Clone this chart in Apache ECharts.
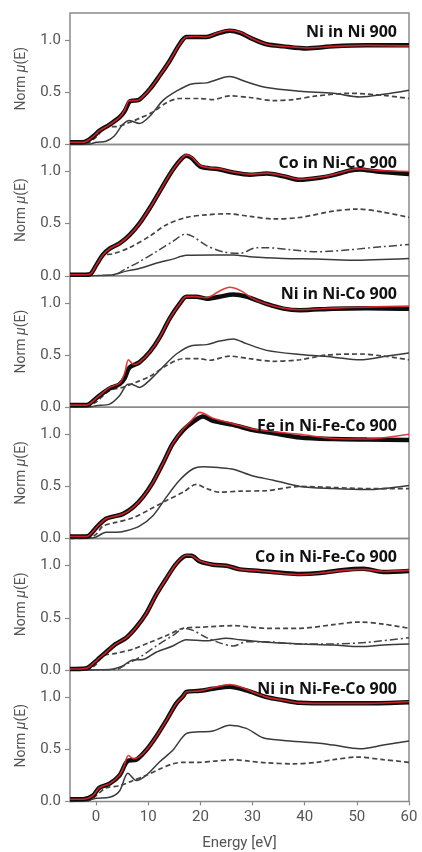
<!DOCTYPE html>
<html>
<head>
<meta charset="utf-8">
<script src="https://cdn.jsdelivr.net/npm/echarts@6/dist/echarts.min.js"></script>
<style>
html,body{margin:0;padding:0;background:#fff;}
#c{width:422px;height:852px;}
</style>
</head>
<body>
<div id="c"></div>
<script>
// ---------- data ----------
const panelTitles = ['Ni in Ni 900','Co in Ni-Co 900','Ni in Ni-Co 900','Fe in Ni-Fe-Co 900','Co in Ni-Fe-Co 900','Ni in Ni-Fe-Co 900'];
const xTicks = [0,10,20,30,40,50,60];
const yTicks = [0,0.5,1.0];

// Panel 1: Ni in Ni 900
const p1Data = [[-5,0.02],[-2.5,0.02],[-1.5,0.04],[0,0.1],[0.6,0.13],[2.6,0.19],[4.5,0.26],[5.5,0.32],[6.4,0.41],[7.2,0.42],[8.3,0.43],[10.3,0.53],[12.2,0.66],[14.1,0.8],[16,0.96],[17.3,1.03],[19.2,1.03],[21.2,1.03],[23.1,1.06],[25.6,1.09],[27.6,1.07],[30.1,1.01],[32.7,0.96],[35.9,0.94],[40.4,0.92],[45.5,0.94],[51.9,0.95],[60,0.95]];
const p1Fit  = [[-5,0.02],[-2.5,0.02],[-1.5,0.04],[0,0.1],[0.6,0.13],[2.6,0.19],[4.5,0.26],[5.5,0.33],[6.3,0.42],[7.2,0.42],[8.3,0.43],[10.3,0.53],[12.2,0.66],[14.1,0.8],[16,0.96],[17.3,1.03],[19.2,1.035],[21.2,1.03],[23.1,1.065],[25.6,1.095],[27.6,1.075],[30.1,1.01],[32.7,0.96],[35.9,0.94],[40.4,0.925],[45.5,0.94],[51.9,0.95],[60,0.945]];
const p1Solid = [[-5,0],[-1,0.005],[0,0.02],[1.9,0.03],[3.5,0.08],[5.1,0.19],[6.4,0.23],[8.3,0.2],[10.3,0.27],[12.8,0.42],[15.4,0.51],[18.3,0.58],[21.2,0.59],[25.6,0.65],[28.8,0.6],[32.7,0.545],[39.1,0.51],[45.5,0.49],[50.6,0.455],[55.1,0.48],[60,0.52]];
const p1Dash  = [[-5,0],[-2,0.005],[0,0.07],[1.5,0.15],[2.6,0.17],[3.8,0.17],[6.4,0.21],[8.3,0.25],[10.9,0.31],[13.5,0.4],[16,0.44],[19.9,0.44],[22.4,0.43],[25.6,0.465],[29.5,0.45],[34,0.42],[37.8,0.43],[42.3,0.465],[48.7,0.49],[55.1,0.47],[60,0.44]];

// Panel 2: Co in Ni-Co 900
const p2Data = [[-5,0.01],[-2,0.01],[-1,0.02],[0,0.1],[1.3,0.2],[2.6,0.26],[4.5,0.31],[6.4,0.39],[8.3,0.5],[10.3,0.65],[12.2,0.81],[14.1,0.97],[16,1.1],[17.3,1.15],[18.3,1.13],[19.9,1.05],[21.8,1.03],[23.7,1.02],[26.3,0.99],[29.5,0.97],[32.7,0.98],[35.9,0.955],[39.1,0.92],[42.9,0.94],[45.5,0.965],[48.7,1.01],[50.6,1.02],[53.8,1.0],[60,0.975]];
const p2Fit  = [[-5,0.01],[-2,0.01],[-1,0.02],[0,0.1],[1.3,0.2],[2.6,0.26],[4.5,0.31],[6.4,0.39],[8.3,0.5],[10.3,0.65],[12.2,0.81],[14.1,0.97],[16,1.1],[17.3,1.16],[18.3,1.14],[19.9,1.06],[21.8,1.035],[23.7,1.025],[26.3,0.995],[29.5,0.975],[32.7,0.985],[35.9,0.96],[39.1,0.925],[42.9,0.945],[45.5,0.97],[48.7,1.015],[50.6,1.025],[53.8,1.01],[60,1.0]];
const p2Solid = [[-5,0],[2.6,0.005],[5.8,0.045],[8.3,0.07],[11.5,0.12],[14.7,0.16],[17.3,0.196],[22.4,0.2],[26.3,0.2],[30.1,0.18],[35.9,0.167],[42.3,0.16],[48.7,0.15],[60,0.167]];
const p2Dash  = [[-5,0],[-1.5,0.005],[0,0.1],[1.3,0.2],[3.2,0.21],[6.4,0.27],[10.3,0.38],[13.5,0.49],[17.3,0.56],[21.2,0.585],[25,0.595],[29.5,0.57],[34,0.545],[39.1,0.56],[45.5,0.62],[50,0.64],[55.1,0.61],[60,0.56]];
const p2DashDot = [[-5,0],[3.2,0.005],[5.8,0.07],[8.3,0.135],[11.5,0.23],[14.7,0.33],[17.2,0.4],[18.6,0.375],[21.2,0.29],[24.4,0.23],[27.6,0.215],[30.8,0.27],[32.7,0.27],[37.2,0.25],[42.3,0.23],[48.7,0.25],[55.1,0.28],[60,0.3]];

// Panel 3: Ni in Ni-Co 900
const p3Data = [[-5,0.02],[-2,0.02],[-1.3,0.03],[0.6,0.11],[2.6,0.18],[4.5,0.22],[5.5,0.28],[6.4,0.38],[8.3,0.43],[10.3,0.53],[12.2,0.67],[14.1,0.85],[16,0.99],[17.3,1.06],[19.2,1.06],[21.2,1.04],[23.7,1.06],[26.3,1.08],[28.8,1.06],[32.7,0.99],[35.9,0.945],[39.1,0.93],[45.5,0.945],[51.9,0.95],[60,0.945]];
const p3Fit  = [[-5,0.02],[-2,0.02],[-1.3,0.03],[0.6,0.11],[2.6,0.19],[4.5,0.23],[5.5,0.33],[6.2,0.455],[7.2,0.41],[8.3,0.43],[10.3,0.53],[12.2,0.67],[14.1,0.85],[16,0.99],[17.3,1.06],[19.2,1.06],[21.2,1.05],[23.7,1.115],[25.6,1.15],[27.6,1.12],[30.1,1.04],[32.7,0.99],[35.9,0.95],[39.1,0.935],[45.5,0.95],[51.9,0.96],[60,0.97]];
const p3Solid = [[-5,0],[-1,0.005],[0,0.015],[2.6,0.03],[4.5,0.11],[6.1,0.22],[6.8,0.22],[8.3,0.19],[10.3,0.26],[12.8,0.385],[15.4,0.51],[18.3,0.59],[21.2,0.6],[23.7,0.635],[26.3,0.655],[28.8,0.61],[32.7,0.545],[39.1,0.505],[45.5,0.48],[50.6,0.455],[55.8,0.49],[60,0.52]];
const p3Dash  = [[-5,0],[-2,0.005],[0,0.05],[2.6,0.16],[5.1,0.19],[7.7,0.24],[10.3,0.295],[13.5,0.4],[16.7,0.465],[19.9,0.465],[21.8,0.45],[25.6,0.49],[29.5,0.465],[34,0.44],[39.1,0.455],[44.2,0.5],[50.6,0.51],[55.1,0.49],[60,0.455]];

// Panel 4: Fe in Ni-Fe-Co 900
const p4Data = [[-5,0.02],[-2,0.02],[-1.3,0.03],[0.3,0.12],[1.9,0.19],[3.2,0.21],[5.1,0.235],[7.1,0.3],[9,0.4],[10.9,0.54],[12.8,0.72],[14.7,0.91],[16.7,1.04],[18.6,1.12],[20.5,1.17],[22.4,1.13],[26.3,1.09],[30.1,1.04],[34,1.01],[39.1,0.97],[45.5,0.955],[51.9,0.95],[60,0.945]];
const p4Fit  = [[-5,0.02],[-2,0.02],[-1.3,0.03],[0.3,0.12],[1.9,0.19],[3.2,0.21],[5.1,0.235],[7.1,0.3],[9,0.4],[10.9,0.54],[12.8,0.72],[14.7,0.91],[16.7,1.05],[18.6,1.15],[19.9,1.21],[22.4,1.155],[26.3,1.1],[30.1,1.05],[34,1.025],[39.1,1.0],[45.5,0.96],[51.9,0.955],[60,1.0]];
const p4Solid = [[-5,0],[-1,0.005],[0,0.015],[1.9,0.06],[3.8,0.06],[5.8,0.075],[8.3,0.12],[10.9,0.22],[13.5,0.4],[16,0.56],[18.6,0.67],[20.5,0.69],[23.7,0.68],[26.3,0.665],[30.1,0.6],[34,0.56],[39.1,0.5],[45.5,0.48],[51.9,0.47],[60,0.51]];
const p4Dash  = [[-5,0],[-1.5,0.005],[0,0.04],[1.3,0.12],[3.8,0.155],[7.1,0.2],[10.3,0.28],[13.5,0.365],[16.7,0.445],[19.2,0.52],[21.2,0.48],[23.7,0.445],[27.6,0.455],[32.7,0.46],[39.1,0.5],[45.5,0.49],[51.9,0.48],[60,0.48]];

// Panel 5: Co in Ni-Fe-Co 900
const p5Data = [[-5,0.01],[-2,0.015],[-1.3,0.03],[0.3,0.1],[1.9,0.17],[3.8,0.25],[5.8,0.31],[7.7,0.41],[9.6,0.54],[11.5,0.72],[13.5,0.88],[15.4,1.02],[17.3,1.095],[18.3,1.095],[19.9,1.04],[22.4,1.01],[25,1.0],[27.6,0.965],[31.4,0.95],[35.9,0.93],[39.1,0.92],[42.9,0.93],[47.4,0.96],[51.3,0.97],[55.1,0.94],[60,0.95]];
const p5Fit  = [[-5,0.01],[-2,0.015],[-1.3,0.03],[0.3,0.1],[1.9,0.17],[3.8,0.25],[5.8,0.31],[7.7,0.41],[9.6,0.54],[11.5,0.72],[13.5,0.88],[15.4,1.02],[17.3,1.1],[18.3,1.095],[19.9,1.045],[22.4,1.01],[25,1.0],[27.6,0.965],[31.4,0.95],[35.9,0.925],[39.1,0.915],[42.9,0.93],[47.4,0.955],[51.3,0.965],[55.1,0.945],[60,0.955]];
const p5Solid = [[-5,0],[2.6,0.005],[5.1,0.04],[7,0.095],[9,0.1],[11.5,0.17],[14.7,0.23],[17.3,0.29],[21.2,0.28],[25,0.305],[27.6,0.29],[32.7,0.265],[39.1,0.25],[45.5,0.24],[50.6,0.225],[55.1,0.24],[60,0.25]];
const p5Dash  = [[-5,0],[-1.5,0.005],[0,0.055],[1.3,0.135],[3.8,0.16],[7.1,0.2],[10.3,0.265],[13.5,0.33],[16.7,0.4],[19.9,0.41],[26.3,0.425],[32.7,0.4],[39.1,0.4],[45.5,0.435],[50.6,0.46],[55.1,0.44],[60,0.4]];
const p5DashDot = [[-5,0],[3.8,0.005],[5.8,0.055],[8.3,0.12],[11.5,0.23],[14.7,0.33],[17,0.4],[18.6,0.38],[21.2,0.31],[23.7,0.26],[26.3,0.23],[28.8,0.27],[32.7,0.27],[39.1,0.25],[45.5,0.25],[51.9,0.265],[60,0.31]];

// Panel 6: Ni in Ni-Fe-Co 900
const p6Data = [[-5,0.02],[-2.5,0.02],[-0.6,0.055],[0.6,0.13],[2.6,0.17],[4.5,0.25],[6.1,0.39],[7.7,0.4],[9.6,0.49],[11.5,0.62],[13.5,0.78],[15.4,0.94],[16.7,1.01],[17.3,1.05],[19.9,1.06],[22.4,1.08],[25.6,1.1],[28.8,1.065],[32.7,1.0],[35.9,0.97],[39.1,0.945],[45.5,0.94],[51.9,0.94],[60,0.95]];
const p6Fit  = [[-5,0.02],[-2.5,0.02],[-0.6,0.055],[0.6,0.13],[2.6,0.17],[4.5,0.25],[5.3,0.33],[6.2,0.44],[7.2,0.41],[8.3,0.43],[9.6,0.49],[11.5,0.62],[13.5,0.78],[15.4,0.94],[16.7,1.01],[17.3,1.05],[19.9,1.06],[22.4,1.09],[25.6,1.12],[27.6,1.1],[30,1.05],[32.7,1.0],[35.9,0.97],[39.1,0.945],[45.5,0.94],[51.9,0.94],[60,0.955]];
const p6Solid = [[-5,0],[-2,0.005],[0,0.03],[2.6,0.04],[4.5,0.1],[6.1,0.27],[7.7,0.2],[9.6,0.25],[12.2,0.38],[14.7,0.49],[17.3,0.65],[19.9,0.667],[22.4,0.675],[25.6,0.73],[28.8,0.7],[32,0.61],[35.9,0.585],[42.3,0.56],[45.5,0.54],[50.6,0.505],[55.1,0.54],[60,0.58]];
const p6Dash  = [[-5,0],[-1.5,0.005],[0,0.055],[1.9,0.13],[4.5,0.15],[7.1,0.2],[9.6,0.25],[12.2,0.31],[14.7,0.36],[16.7,0.375],[19.9,0.375],[22.4,0.385],[26.3,0.4],[29.5,0.385],[32.7,0.37],[37.8,0.36],[42.3,0.375],[45.5,0.4],[50,0.425],[55.1,0.4],[60,0.375]];

const panels = [
  {data:p1Data, fit:p1Fit, solid:p1Solid, dash:p1Dash, dashdot:null},
  {data:p2Data, fit:p2Fit, solid:p2Solid, dash:p2Dash, dashdot:p2DashDot},
  {data:p3Data, fit:p3Fit, solid:p3Solid, dash:p3Dash, dashdot:null},
  {data:p4Data, fit:p4Fit, solid:p4Solid, dash:p4Dash, dashdot:null},
  {data:p5Data, fit:p5Fit, solid:p5Solid, dash:p5Dash, dashdot:p5DashDot},
  {data:p6Data, fit:p6Fit, solid:p6Solid, dash:p6Dash, dashdot:null}
];

// ---------- layout ----------
const TOP = 13, H = 131.4, LEFT = 70, RIGHT = 13;
const FONT = 'Roboto, "Noto Sans", sans-serif';
const grids = [], xAxes = [], yAxes = [], series = [], titles = [];

panels.forEach((p, i) => {
  const last = i === panels.length - 1;
  grids.push({left: LEFT, right: RIGHT, top: TOP + i*H, height: H, show: true,
    borderColor: '#8a8a8a', borderWidth: 1.5, backgroundColor: 'transparent'});
  xAxes.push({type: 'value', gridIndex: i, min: -5, max: 60,
    axisLine: {show: false, onZero: false},
    splitLine: {show: false},
    axisTick: {show: last, customValues: xTicks, length: 4, lineStyle: {color: '#8a8a8a', width: 1.2}},
    axisLabel: {show: last, customValues: xTicks, margin: 8, color: '#555', fontSize: 15, fontFamily: FONT},
    name: last ? 'Energy [eV]' : '', nameLocation: 'middle', nameGap: 34,
    nameTextStyle: {color: '#555', fontSize: 15, fontFamily: FONT}
  });
  yAxes.push({type: 'value', gridIndex: i, min: 0, max: 1.26,
    axisLine: {show: false, onZero: false},
    splitLine: {show: false},
    axisTick: {show: true, customValues: yTicks, length: 5, lineStyle: {color: '#8a8a8a', width: 1.2}},
    axisLabel: {customValues: yTicks, margin: 9, color: '#555', fontSize: 15, fontFamily: FONT,
      formatter: v => v.toFixed(1)},
    name: '{a|Norm }{b|μ}{a|(E)}', nameLocation: 'middle', nameGap: 42, nameRotate: 90,
    nameTextStyle: {rich: {
      a: {color: '#555', fontSize: 14, fontFamily: FONT},
      b: {color: '#555', fontSize: 14, fontFamily: FONT, fontStyle: 'italic'}
    }}
  });
  titles.push({text: panelTitles[i], right: 20, top: TOP + i*H + 6,
    textStyle: {color: '#111', fontSize: 16, fontWeight: 'bold', fontFamily: '"Open Sans", "Noto Sans", sans-serif'}});

  const base = {type: 'line', xAxisIndex: i, yAxisIndex: i, showSymbol: false, symbol: 'none', smooth: 0.3, animation: false, silent: true};
  series.push(Object.assign({}, base, {data: p.solid, lineStyle: {color: '#3a3a3a', width: 1.5}}));
  series.push(Object.assign({}, base, {data: p.dash, lineStyle: {color: '#444', width: 1.7, type: [5, 3]}}));
  if (p.dashdot) series.push(Object.assign({}, base, {data: p.dashdot, lineStyle: {color: '#444', width: 1.5, type: [8, 3, 2, 3]}}));
  series.push(Object.assign({}, base, {data: p.data, lineStyle: {color: '#0d0d0d', width: 4.5}}));
  series.push(Object.assign({}, base, {data: p.fit, lineStyle: {color: '#e0262b', width: 1.6, opacity: 0.9}}));
});

const chart = echarts.init(document.getElementById('c'), null, {renderer: 'canvas'});
chart.setOption({
  backgroundColor: '#fff',
  animation: false,
  title: titles,
  grid: grids,
  xAxis: xAxes,
  yAxis: yAxes,
  series: series
});
</script>
</body>
</html>
